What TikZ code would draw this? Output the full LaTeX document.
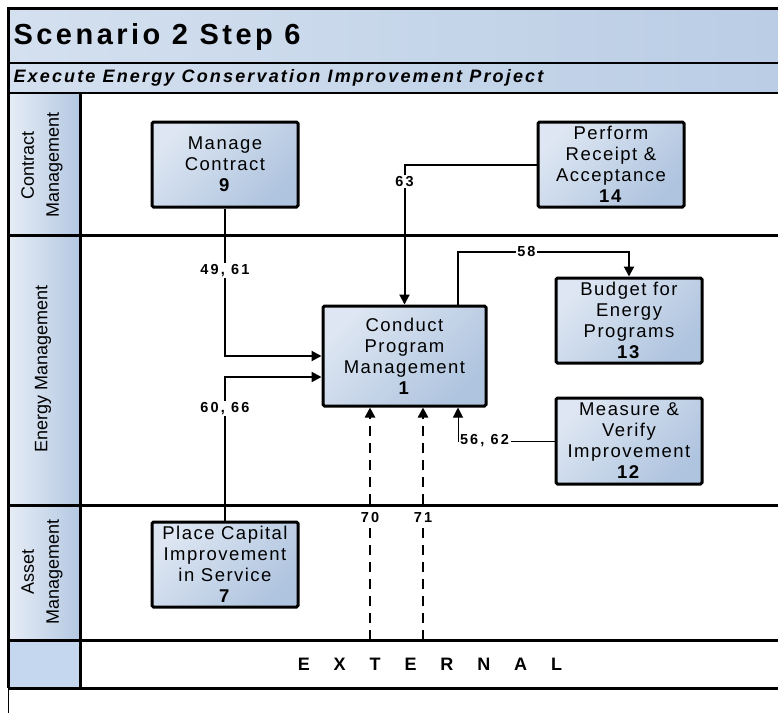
\documentclass[tikz,border=0pt]{standalone}
\usepackage{fontspec}
\setmainfont{Liberation Sans}
\newfontfamily\boxfont[LetterSpace=8]{Liberation Sans}
\newfontfamily\numfont[LetterSpace=15]{Liberation Sans}
\newfontfamily\titlefont[LetterSpace=12]{Liberation Sans}
\newfontfamily\subfont[LetterSpace=12]{Liberation Sans}
\newfontfamily\extfont[LetterSpace=105]{Liberation Sans}
\usetikzlibrary{arrows.meta}
\definecolor{boxlight}{HTML}{DDE6F2}
\definecolor{boxdark}{HTML}{AFC4DF}
\definecolor{barlight}{HTML}{D4E0EF}
\definecolor{bardark}{HTML}{BACDE5}
\definecolor{collight}{HTML}{E6EDF6}
\definecolor{coldark}{HTML}{B4C8E2}
\definecolor{extcol}{HTML}{C5D7EE}

\begin{document}
\begin{tikzpicture}[x=1pt, y=-1pt,
    process/.style={draw, line width=3pt, rounded corners=1.5pt, top color=boxlight, bottom color=boxdark, shading angle=45,
      minimum width=146, minimum height=85, align=center, inner sep=0pt, font=\boxfont\fontsize{18.5}{21}\selectfont},
    lanelbl/.style={rotate=90, align=center, font=\fontsize{18}{25}\selectfont},
    lbl/.style={fill=white, inner sep=1.5pt, font=\numfont\bfseries\fontsize{14.5}{14.5}\selectfont},
    flow/.style={line width=2pt, -{Triangle[length=10pt,width=10pt]}},
    link/.style={line width=1pt, -{Triangle[length=10pt,width=10pt]}},
    dflow/.style={line width=2.5pt, dash pattern=on 10pt off 7pt, -{Triangle[length=10pt,width=10pt]}},
    frame/.style={line width=3pt}]
    \useasboundingbox (0,0) rectangle (778,713);
    \shade[left color=barlight, right color=bardark] (8,8) rectangle (778,63);
    \shade[left color=barlight, right color=bardark] (8,63) rectangle (778,93);
    \shade[left color=collight, right color=coldark] (8,93) rectangle (80,640);
    \fill[extcol] (8,640) rectangle (80,688);
    \draw[frame] (8,688) -- (8,8) -- (778,8);
    \draw[line width=1pt] (8,688) -- (8,713);
    \draw[line width=2pt] (8,63) -- (778,63);
    \draw[line width=2.5pt] (8,93) -- (778,93);
    \foreach \y in {235,505,640,688}
        \draw[frame] (8,\y) -- (778,\y);
    \draw[frame] (80,93) -- (80,688);

    \node[anchor=west, font=\titlefont\bfseries\fontsize{29}{29}\selectfont] (title) at (10,37) {Scenario 2 Step 6};
    \node[anchor=west, font=\subfont\bfseries\itshape\fontsize{18}{18}\selectfont] (subtitle) at (10,78) {Execute Energy Conservation Improvement Project};
    \node[lanelbl] (lcontract) at (42,165) {Contract\\Management};
    \node[lanelbl] (lenergy) at (43,369) {Energy Management};
    \node[lanelbl] (lasset) at (42,572) {Asset\\Management};
    \node[font=\extfont\bfseries\fontsize{18}{18}\selectfont] (ext) at (430,664) {E X T E R N A L};

    \node[process] (m9) at (225,164.5) {Manage\\Contract\\\textbf{9}};
    \node[process] (r14) at (611,164.5) {Perform\\Receipt \&\\Acceptance\\\textbf{14}};
    \node[process, minimum width=163, minimum height=100] (c1) at (404.5,356) {Conduct\\Program\\Management\\\textbf{1}};
    \node[process] (b13) at (629,320.5) {Budget for\\Energy\\Programs\\\textbf{13}};
    \node[process, minimum height=86] (m12) at (629,441) {Measure \&\\Verify\\Improvement\\\textbf{12}};
    \node[process] (p7) at (225,564.5) {Place Capital\\Improvement\\in Service\\\textbf{7}};
    \coordinate (x70) at (370,640);
    \coordinate (x71) at (423,640);

    \draw[flow] (m9.south) |- node[lbl, pos=0.21] {49, 61} (c1.west);
    \draw[flow] (p7.north) |- node[lbl, pos=0.39] {60, 66} ([yshift=-21pt]c1.west);
    \draw[flow] (r14.west) -| node[lbl, pos=0.56] {63} (c1.north);
    \draw[flow] ([xshift=53.5pt]c1.north) -- ++(0,-53) -| node[lbl, pos=0.2] {58} (b13.north);
    \draw[link] (m12.west) -| node[lbl, anchor=west, pos=0.5] {56, 62} ([xshift=53.5pt]c1.south);
    \draw[dflow] (x70) -- node[lbl, pos=0.526] {70} (c1.south -| x70);
    \draw[dflow] (x71) -- node[lbl, pos=0.526] {71} (c1.south -| x71);
\end{tikzpicture}
\end{document}
